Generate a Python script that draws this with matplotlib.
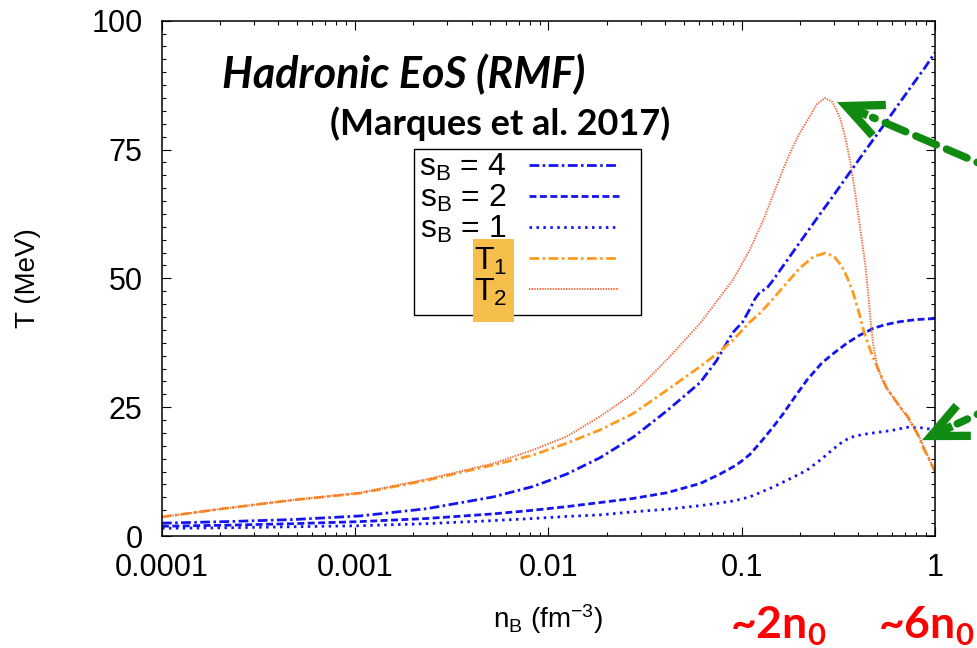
import matplotlib
matplotlib.use("Agg")
import matplotlib.pyplot as plt
from matplotlib.ticker import MultipleLocator, LogLocator, NullFormatter
from matplotlib.patches import Rectangle

plt.rcParams['font.family'] = ['Liberation Sans', 'DejaVu Sans']
plt.rcParams['mathtext.fontset'] = 'custom'
plt.rcParams['mathtext.rm'] = 'Liberation Sans'
plt.rcParams['mathtext.it'] = 'Liberation Sans:italic'
plt.rcParams['mathtext.bf'] = 'Lato:bold'
plt.rcParams['lines.scale_dashes'] = False

# temperature along isentropes, s_B = 4, 2, 1
n_s4 = [1e-4, 2.16e-4, 4.8e-4, 1.06e-3, 2.34e-3, 5.2e-3, 8.3e-3, 0.0124, 0.0185, 0.0275,
        0.041, 0.061, 0.074, 0.09, 0.101, 0.11, 0.117, 0.124, 0.135, 0.145, 0.163, 0.2,
        0.25, 0.3, 0.36, 0.45, 0.55, 0.66, 0.77, 0.88, 1.0]
T_s4 = [2.5, 2.8, 3.2, 3.9, 5.3, 7.6, 9.6, 12.0, 15.2, 19.2,
        24.3, 29.8, 34.0, 39.5, 41.5, 44.0, 46.0, 47.3, 48.1, 49.6, 52.3, 57.0,
        62.1, 66.2, 70.4, 75.5, 80.0, 84.2, 87.7, 90.7, 93.8]

n_s2 = [1e-4, 2.16e-4, 4.8e-4, 1.06e-3, 2.34e-3, 5.2e-3, 8.3e-3, 0.0124, 0.0185, 0.0275,
        0.041, 0.061, 0.077, 0.09, 0.098, 0.11, 0.124, 0.145, 0.163, 0.19, 0.218, 0.26,
        0.3, 0.35, 0.4, 0.48, 0.55, 0.66, 0.8, 1.0]
T_s2 = [1.9, 2.1, 2.4, 2.8, 3.4, 4.3, 5.0, 5.7, 6.5, 7.3,
        8.4, 10.2, 12.0, 13.4, 14.3, 15.8, 18.0, 21.1, 23.6, 27.2, 30.3, 33.6,
        35.5, 37.4, 38.8, 40.3, 41.0, 41.6, 42.0, 42.2]

n_s1 = [1e-4, 2.16e-4, 4.8e-4, 1.06e-3, 2.34e-3, 5.2e-3, 8.3e-3, 0.0124, 0.0185, 0.0275,
        0.041, 0.061, 0.077, 0.09, 0.098, 0.11, 0.124, 0.145, 0.18, 0.218, 0.26, 0.296,
        0.33, 0.363, 0.42, 0.48, 0.6, 0.716, 0.85, 1.0]
T_s1 = [1.5, 1.6, 1.8, 2.0, 2.4, 3.0, 3.4, 3.8, 4.1, 4.7,
        5.2, 5.9, 6.4, 6.8, 7.1, 7.6, 8.4, 9.5, 11.2, 12.8, 15.0, 16.8,
        18.2, 19.1, 19.7, 20.0, 20.5, 21.1, 21.0, 20.6]

# characteristic temperatures T1, T2
n_t1 = [1e-4, 2.16e-4, 4.8e-4, 1.06e-3, 2.34e-3, 5.2e-3, 8.3e-3, 0.0124, 0.0185, 0.0275,
        0.041, 0.061, 0.077, 0.09, 0.11, 0.124, 0.145, 0.17, 0.2, 0.235, 0.27, 0.3,
        0.33, 0.35, 0.375, 0.4, 0.424, 0.45, 0.478, 0.52, 0.564, 0.607, 0.66, 0.72,
        0.77, 0.82, 0.867, 0.93, 1.0]
T_t1 = [3.7, 5.4, 7.0, 8.3, 10.8, 13.8, 15.7, 18.0, 20.6, 23.8,
        28.3, 32.9, 35.8, 38.0, 41.5, 43.2, 46.0, 49.0, 52.0, 54.2, 54.9, 54.3,
        52.3, 50.3, 47.5, 44.0, 40.3, 37.3, 34.7, 31.5, 28.6, 27.0, 25.0, 23.3,
        21.3, 19.5, 17.2, 15.0, 12.5]

n_t2 = [1e-4, 2.16e-4, 4.8e-4, 1.06e-3, 2.34e-3, 5.2e-3, 8.3e-3, 0.0124, 0.0185, 0.0275,
        0.041, 0.061, 0.09, 0.11, 0.129, 0.15, 0.171, 0.195, 0.218, 0.245, 0.27, 0.295,
        0.322, 0.343, 0.363, 0.385, 0.405, 0.42, 0.435, 0.45, 0.465, 0.48, 0.5, 0.53,
        0.56, 0.6, 0.66, 0.72, 0.78, 0.84, 0.9, 0.95, 1.0]
T_t2 = [3.7, 5.4, 7.0, 8.4, 11.0, 14.1, 16.7, 19.3, 23.2, 27.7,
        34.2, 41.3, 49.7, 55.5, 61.2, 67.5, 72.9, 77.5, 80.6, 83.8, 85.0, 84.2,
        81.2, 77.5, 72.9, 67.0, 61.2, 57.0, 53.0, 47.5, 41.5, 37.0, 33.3, 30.6,
        28.8, 27.2, 25.0, 23.1, 21.0, 18.8, 16.3, 14.3, 12.5]

xticks = [1e-4, 1e-3, 1e-2, 1e-1, 1]
xticklabels = ['0.0001', '0.001', '0.01', '0.1', '1']

blue = '#1414f0'
orange = '#ff9a1e'
coral = '#f26a3c'
green = '#118a11'

fig = plt.figure(figsize=(9.78, 6.48), dpi=100)
ax = fig.add_axes([0.1656, 0.1728, 0.7904, 0.7953])

ax.plot(n_s4, T_s4, color=blue, lw=2.0, ls=(0, (7, 2.5, 1.8, 2.5)), label=r's$_{\rm B}$ = 4')
ax.plot(n_s2, T_s2, color=blue, lw=2.0, ls=(0, (5, 2.5)), label=r's$_{\rm B}$ = 2')
ax.plot(n_s1, T_s1, color=blue, lw=2.0, ls=(0, (1.8, 3.2)), label=r's$_{\rm B}$ = 1')
ax.plot(n_t1, T_t1, color=orange, lw=2.0, ls=(0, (7, 2.5, 1.8, 2.5)), label=r'T$_1$')
ax.plot(n_t2, T_t2, color=coral, lw=1.4, ls=(0, (1.0, 0.9)), label=r'T$_2$')

ax.set_xscale('log')
ax.set_xlim(1e-4, 1)
ax.set_ylim(0, 100)
ax.set_xticks(xticks)
ax.set_xticklabels(xticklabels)
ax.xaxis.set_minor_locator(LogLocator(base=10, subs=range(2, 10)))
ax.xaxis.set_minor_formatter(NullFormatter())
ax.yaxis.set_major_locator(MultipleLocator(25))
ax.yaxis.set_minor_locator(MultipleLocator(2.5))

ax.tick_params(which='both', direction='in', top=True, right=True, width=0.8)
ax.tick_params(which='major', length=6.5, labelsize=22)
ax.tick_params(which='minor', length=3)
ax.tick_params(axis='y', pad=14)
ax.tick_params(axis='x', pad=12)
for sp in ax.spines.values():
    sp.set_linewidth(1.1)

ax.set_xlabel(r'n$_{\rm B}$ (fm$^{-3}$)', fontsize=20, labelpad=14)
ax.set_ylabel('T (MeV)', fontsize=20, labelpad=36)

# key box, drawn by hand so the right-hand margin can be wider than the left
ax.add_patch(Rectangle((0.326, 0.4289), 0.6197 - 0.326, 0.751 - 0.4289,
                       transform=ax.transAxes, facecolor='none', edgecolor='black',
                       lw=1.0, zorder=4))
leg = ax.legend(loc='upper right', bbox_to_anchor=(0.595, 0.751), borderaxespad=0,
                markerfirst=False, frameon=False, fontsize=23,
                handlelength=2.8, handletextpad=0.7, labelspacing=0.0,
                borderpad=0.1)

ax.text(0.078, 0.869, 'Hadronic EoS (RMF)', transform=ax.transAxes,
        family='Lato', fontweight='bold', style='italic', fontsize=31)
ax.text(0.217, 0.778, '(Marques et al. 2017)', transform=ax.transAxes,
        family='Lato', fontweight='bold', fontsize=26)

# highlight behind the T1/T2 labels
fig.canvas.draw()
r = fig.canvas.get_renderer()
bb1 = leg.get_texts()[3].get_window_extent(r)
bb2 = leg.get_texts()[4].get_window_extent(r)
x0 = min(bb1.x0, bb2.x0) - 1
x1 = max(bb1.x1, bb2.x1) + 7
y0 = bb2.y0 - 14
y1 = bb1.y1 + 6
inv = fig.transFigure.inverted()
(fx0, fy0), (fx1, fy1) = inv.transform([(x0, y0), (x1, y1)])
ax.add_patch(Rectangle((fx0, fy0), fx1 - fx0, fy1 - fy0, transform=fig.transFigure,
                       facecolor='#f6bf4c', edgecolor='none', zorder=4.5, clip_on=False))

# arrows pointing at the T2 peak and the s_B = 1 end
for tip, tail in [((0.311, 84.2), (1.02, 0.736)), ((0.857, 18.6), (1.02, 0.375))]:
    ax.annotate('', xy=tip, xycoords='data', xytext=tail, textcoords='figure fraction',
                arrowprops=dict(arrowstyle='-', lw=5.5, color=green,
                                ls=(0, (16, 8)), shrinkA=0, shrinkB=28),
                annotation_clip=False)
    tip_px = ax.transData.transform(tip)
    tail_px = fig.transFigure.transform(tail)
    d = tail_px - tip_px
    d = d / (d ** 2).sum() ** 0.5
    ax.annotate('', xy=tip, xycoords='data', xytext=(d[0] * 24, d[1] * 24),
                textcoords='offset points',
                arrowprops=dict(arrowstyle='->,head_length=2.6,head_width=1.2',
                                mutation_scale=10, lw=6, color=green,
                                shrinkA=0, shrinkB=0, joinstyle='miter',
                                capstyle='butt'),
                annotation_clip=False)

fig.text(0.746, 0.014, '~2n$_\\mathbf{0}$', color='#ff0000', family='Lato',
         fontweight='bold', fontsize=32)
fig.text(0.898, 0.014, '~6n$_\\mathbf{0}$', color='#ff0000', family='Lato',
         fontweight='bold', fontsize=32)

fig.savefig('out.png', dpi=100)
